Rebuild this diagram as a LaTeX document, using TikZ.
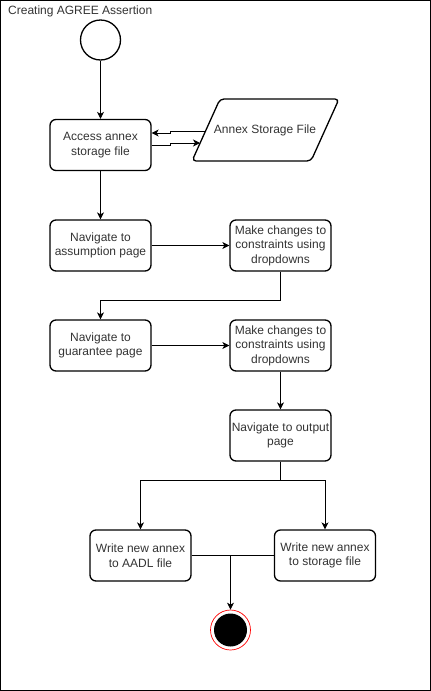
\documentclass[tikz,border=0pt]{standalone}
\usepackage{fontspec}
\setmainfont{Liberation Sans}
\usetikzlibrary{arrows.meta}

\tikzset{
  etape/.style={draw, line width=1.3pt, rounded corners=6pt, minimum width=101pt,
    minimum height=51pt, inner sep=1pt, align=center, text=black!80,
    font=\fontsize{12}{14.5}\selectfont},
  fleche/.style={-{Stealth[length=7pt,width=7pt,inset=2pt]}, line width=0.8pt}
}

\begin{document}
\begin{tikzpicture}[x=1pt,y=-1pt]
\useasboundingbox (0,0) rectangle (431,691);

%cadre
\draw (0.5,0.5) rectangle (430.5,690.5);
\node[anchor=west, inner sep=0, font=\fontsize{12}{14}\selectfont, text=black!80] (titre) at (8,11) {Creating AGREE Assertion};

%debut
\node[circle, draw, line width=1.3pt, minimum size=40pt, inner sep=0] (debut) at (100.5,40) {};

%acces au fichier
\node[etape] (acces) at (100.5,145) {Access annex\\storage file};
\draw[line width=1.3pt, rounded corners=4pt] (192,161) -- (220,99) -- (339,99) -- (311,161) -- cycle;
\node[text=black!80, font=\fontsize{12}{14}\selectfont] (fichier) at (265,130) {Annex Storage File};
\coordinate (fa) at (205.5,131);
\coordinate (fb) at (200,143);
\draw[fleche] (fa) -- ++(-35,0) |- ([yshift=12pt]acces.east);
\draw[fleche] (acces.east) -- ++(19,0) |- (fb);

%hypotheses
\node[etape] (navass) at (100.5,245.5) {Navigate to\\assumption page};
\node[etape] (modif1) at (280.5,245.5) {Make changes to\\constraints using\\dropdowns};
\draw[fleche] (debut) -- (acces);
\draw[fleche] (acces) -- (navass);
\draw[fleche] (navass) -- (modif1);

%garanties
\node[etape] (navgar) at (100.5,345.5) {Navigate to\\guarantee page};
\node[etape] (modif2) at (280.5,345.5) {Make changes to\\constraints using\\dropdowns};
\draw[fleche] (modif1.south) -- ++(0,29) -| (navgar.north);
\draw[fleche] (navgar) -- (modif2);

%sortie
\node[etape] (sortie) at (280.5,435.5) {Navigate to output\\page};
\draw[fleche] (modif2) -- (sortie);

%ecriture
\node[etape] (ecrAADL) at (140.5,555.5) {Write new annex\\to AADL file};
\node[etape] (ecrStock) at (325,555.5) {Write new annex\\to storage file};
\draw[fleche] (sortie.south) -- ++(0,19) -| (ecrAADL.north);
\draw[fleche] (sortie.south) -- ++(0,19) -| (ecrStock.north);

%fin
\node[circle, draw=red, line width=0.7pt, minimum size=40pt, inner sep=0] (fin) at (230.5,630) {};
\node[circle, fill=black, minimum size=33pt, inner sep=0] (finint) at (fin) {};
\draw[line width=0.8pt] (ecrAADL.east) -- (ecrStock.west);
\draw[fleche] (fin.north |- ecrAADL.east) -- (fin.north);

\end{tikzpicture}
\end{document}
